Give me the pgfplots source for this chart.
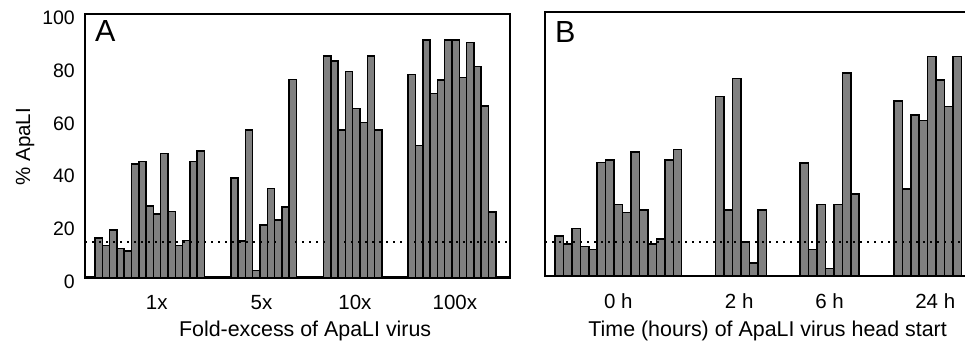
\documentclass[border=0pt]{standalone}
\usepackage{pgfplots}
\pgfplotsset{compat=1.18}
\usepackage{fontspec}
\setmainfont{Liberation Sans}
\begin{document}
\begin{tikzpicture}
\pgfplotsset{
  panel/.style={
    scale only axis, clip=false, ymin=0,
    axis line style={line width=2.4pt},
    major tick length=0pt,
    xticklabel style={font=\fontsize{20.5}{24}\selectfont, anchor=base, inner sep=0pt},
    xlabel style={font=\fontsize{21.4}{25}\selectfont, anchor=base, inner sep=0pt},
  },
  bars/.style={ybar, bar width=1, bar shift=0pt, fill=gray, draw=black, line width=1.5pt},
  thr/.style={black, line width=2.3pt, dash pattern=on 2.3pt off 4.7pt, mark=none},
}
% Panel A
\begin{axis}[panel,
  at={(85pt,63.7pt)}, anchor=south west,
  width=425pt, height=263.3pt,
  xmin=-0.37, xmax=57.85, ymax=100,
  xtick={9.45,23.8,36.6,50.3},
  xticklabels={1x,5x,10x,100x},
  xticklabel style={yshift=-31.7pt},
  ytick={0,20,40,60,80,100},
  yticklabels={0,20,40,60,80,100},
  yticklabel style={font=\fontsize{19.5}{23}\selectfont, anchor=base east, inner sep=0pt, xshift=-10pt, yshift=-10.7pt},
  xlabel={Fold-excess of ApaLI virus},
  xlabel style={at={(axis description cs:0.518,0)}, yshift=-59.3pt},
]
\addplot[bars] coordinates {
 (1.5,15) (2.5,12) (3.5,18) (4.5,11) (5.5,10) (6.5,43) (7.5,44) (8.5,27) (9.5,24) (10.5,47) (11.5,25) (12.5,12) (13.5,14) (14.5,44) (15.5,48)
 (20.1,37.7) (21.1,13.7) (22.1,55.9) (23.1,2.5) (24.1,19.9) (25.1,33.8) (26.1,21.8) (27.1,26.7) (28.1,75.2)
 (32.8,84.1) (33.8,82.2) (34.8,55.9) (35.8,78.1) (36.8,64.1) (37.8,58.7) (38.8,84.1) (39.8,55.9)
 (44.4,77.0) (45.4,50.0) (46.4,90.1) (47.4,69.9) (48.4,74.9) (49.4,90.1) (50.4,90.1) (51.4,75.9) (52.4,89.2) (53.4,80.0) (54.4,65.1) (55.4,24.8)
};
\addplot[thr] coordinates {(-0.37,13.3) (57.85,13.3)};
\node[anchor=north west, inner sep=0pt, xshift=10pt, yshift=-6.7pt, font=\fontsize{30.5}{36}\selectfont] at (rel axis cs:0,1) {A};
\end{axis}
% Panel B
\begin{axis}[panel,
  at={(545pt,65.3pt)}, anchor=south west,
  width=420pt, height=264pt,
  xmin=-0.18, xmax=49.52, ymax=100.27,
  axis line style={draw=none},
  xtick={8.49,22.8,33.5,46.0},
  xticklabels={0 h,2 h,6 h,24 h},
  xticklabel style={yshift=-32.8pt},
  ytick=\empty,
  xlabel={Time (hours) of ApaLI virus head start},
  xlabel style={at={(axis description cs:0.530,0)}, yshift=-60.9pt},
]
\addplot[bars] coordinates {
 (1.5,15) (2.5,12) (3.5,18) (4.5,11) (5.5,10) (6.5,43) (7.5,44) (8.5,27) (9.5,24) (10.5,47) (11.5,25) (12.5,12) (13.5,14) (14.5,44) (15.5,48)
 (20.5,68.1) (21.5,24.9) (22.5,74.9) (23.5,12.8) (24.5,4.9) (25.5,24.9)
 (30.5,42.9) (31.5,10.0) (32.5,27.0) (33.5,2.8) (34.5,27.0) (35.5,77.0) (36.5,31.1)
 (41.6,66.3) (42.6,33.0) (43.6,61.0) (44.6,59.0) (45.6,83.2) (46.6,74.3) (47.6,64.2) (48.6,83.2)
};
\addplot[thr] coordinates {(-0.18,12.7) (49.52,12.7)};
\draw[line width=2.4pt] (rel axis cs:1,0) -- (rel axis cs:0,0) -- (rel axis cs:0,1) -- (rel axis cs:1,1);
\node[anchor=north west, inner sep=0pt, xshift=10pt, yshift=-10pt, font=\fontsize{30.5}{36}\selectfont] at (rel axis cs:0,1) {B};
\end{axis}
\node[rotate=90, anchor=base, inner sep=0pt, font=\fontsize{20.5}{24}\selectfont] at (30pt,194.3pt) {\% ApaLI};
\pgfresetboundingbox
\useasboundingbox (0,0) rectangle (965pt,341pt);
\end{tikzpicture}
\end{document}
